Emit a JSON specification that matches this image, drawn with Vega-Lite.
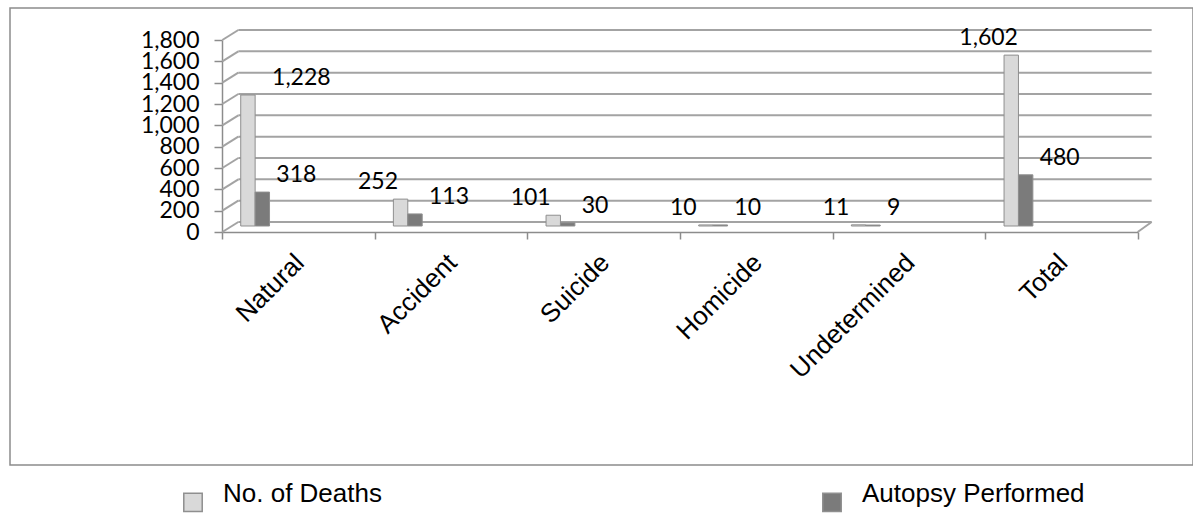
{
  "$schema": "https://vega.github.io/schema/vega-lite/v6.json",
  "width": 1183,
  "height": 457,
  "autosize": {"type": "none"},
  "padding": {"left": 10, "top": 8, "right": 0, "bottom": 48},
  "background": "white",
  "config": {"view": {"stroke": "#8c8c8c", "strokeWidth": 1.5}},
  "datasets": {
    "deaths": [
      {"category": "Natural", "series": "No. of Deaths", "value": 1228},
      {"category": "Natural", "series": "Autopsy Performed", "value": 318},
      {"category": "Accident", "series": "No. of Deaths", "value": 252},
      {"category": "Accident", "series": "Autopsy Performed", "value": 113},
      {"category": "Suicide", "series": "No. of Deaths", "value": 101},
      {"category": "Suicide", "series": "Autopsy Performed", "value": 30},
      {"category": "Homicide", "series": "No. of Deaths", "value": 10},
      {"category": "Homicide", "series": "Autopsy Performed", "value": 10},
      {"category": "Undetermined", "series": "No. of Deaths", "value": 11},
      {"category": "Undetermined", "series": "Autopsy Performed", "value": 9},
      {"category": "Total", "series": "No. of Deaths", "value": 1602},
      {"category": "Total", "series": "Autopsy Performed", "value": 480}
    ],
    "wallLines": [
      {"value": 0}, {"value": 200}, {"value": 400}, {"value": 600}, {"value": 800},
      {"value": 1000}, {"value": 1200}, {"value": 1400}, {"value": 1600}, {"value": 1800}
    ]
  },
  "layer": [
    {
      "data": {"name": "wallLines"},
      "mark": {"type": "rule", "color": "#a3a3a3", "strokeWidth": 2, "xOffset": -60, "x2Offset": 90, "yOffset": -10, "y2Offset": -10},
      "encoding": {
        "x": {"datum": "Natural", "type": "nominal"},
        "x2": {"datum": "Total"},
        "y": {"field": "value", "type": "quantitative"},
        "y2": {"field": "value"}
      }
    },
    {
      "data": {"name": "wallLines"},
      "mark": {"type": "rule", "color": "#a3a3a3", "strokeWidth": 2, "xOffset": -76, "x2Offset": -60, "y2Offset": -10},
      "encoding": {
        "x": {"datum": "Natural", "type": "nominal"},
        "x2": {"datum": "Natural"},
        "y": {"field": "value", "type": "quantitative"},
        "y2": {"field": "value"}
      }
    },
    {
      "data": {"name": "wallLines"},
      "transform": [{"filter": "datum.value == 0"}],
      "mark": {"type": "rule", "color": "#a3a3a3", "strokeWidth": 2, "xOffset": 76, "x2Offset": 90, "y2Offset": -10},
      "encoding": {
        "x": {"datum": "Total", "type": "nominal"},
        "x2": {"datum": "Total"},
        "y": {"field": "value", "type": "quantitative"},
        "y2": {"field": "value"}
      }
    },
    {
      "data": {"name": "deaths"},
      "mark": {"type": "bar", "yOffset": -6, "y2Offset": -6, "stroke": "#8f8f8f", "strokeWidth": 1},
      "encoding": {
        "x": {
          "field": "category", "type": "nominal", "sort": null,
          "scale": {"domain": ["Natural", "Accident", "Suicide", "Homicide", "Undetermined", "Total"], "range": [212, 1128], "paddingInner": 0, "paddingOuter": 0},
          "axis": {
            "orient": "bottom", "offset": -233, "tickBand": "extent", "tickSize": 7,
            "labelAngle": -45, "labelAlign": "right", "labelBaseline": "top", "labelPadding": 10, "labelOffset": -8,
            "labelFont": "Liberation Sans", "labelFontSize": 26, "labelColor": "black", "labelLimit": 400,
            "domainColor": "#8c8c8c", "domainWidth": 1.5, "tickColor": "#8c8c8c", "tickWidth": 1.5, "title": null, "grid": false
          }
        },
        "xOffset": {
          "field": "series", "type": "nominal",
          "scale": {"domain": ["s0", "No. of Deaths", "Autopsy Performed", "s3", "s4", "s5", "s6", "s7", "s8", "s9"], "paddingInner": 0, "paddingOuter": 0.3}
        },
        "y": {
          "field": "value", "type": "quantitative",
          "scale": {"domain": [0, 1800], "range": [224, 32], "nice": false, "zero": true},
          "axis": {
            "values": [0, 200, 400, 600, 800, 1000, 1200, 1400, 1600, 1800],
            "labelExpr": "format(datum.value, ',')", "grid": false,
            "labelOverlap": false, "labelFlush": false, "labelBound": false,
            "orient": "left", "offset": -212, "tickSize": 8, "labelPadding": 15,
            "labelFont": "Lato", "labelFontSize": 23, "labelColor": "black",
            "domainColor": "#8c8c8c", "domainWidth": 1.5, "tickColor": "#8c8c8c", "tickWidth": 1.5, "title": null
          }
        },
        "fill": {
          "field": "series", "type": "nominal",
          "scale": {"domain": ["No. of Deaths", "Autopsy Performed"], "range": ["#d9d9d9", "#7b7b7b"]},
          "legend": {
            "orient": "none", "legendX": 170, "legendY": 481, "direction": "horizontal", "columns": 2,
            "title": null, "symbolType": "square", "symbolSize": 340,
            "labelFont": "Liberation Sans", "labelFontSize": 26, "labelColor": "black", "labelOffset": 17,
            "labelBaseline": "alphabetic",
            "labelLimit": 400, "columnPadding": 437,
            "encode": {
              "symbols": {"update": {"stroke": {"value": "#222222"}, "strokeWidth": {"value": 1.5}}}
            }
          }
        }
      }
    },
    {
      "data": {"name": "deaths"},
      "transform": [{"filter": "datum.series == 'No. of Deaths' && datum.category != 'Natural'"}],
      "mark": {"type": "text", "dx": -73, "dy": -23, "align": "center", "baseline": "middle", "font": "Lato", "fontSize": 23, "color": "black"},
      "encoding": {
        "x": {"field": "category", "type": "nominal", "sort": null},
        "y": {"field": "value", "type": "quantitative"},
        "text": {"field": "value", "type": "quantitative", "format": ","}
      }
    },
    {
      "data": {"name": "deaths"},
      "transform": [{"filter": "datum.series == 'No. of Deaths' && datum.category == 'Natural'"}],
      "mark": {"type": "text", "dx": 3, "dy": -23, "align": "center", "baseline": "middle", "font": "Lato", "fontSize": 23, "color": "black"},
      "encoding": {
        "x": {"field": "category", "type": "nominal", "sort": null},
        "y": {"field": "value", "type": "quantitative"},
        "text": {"field": "value", "type": "quantitative", "format": ","}
      }
    },
    {
      "data": {"name": "deaths"},
      "transform": [{"filter": "datum.series == 'Autopsy Performed'"}],
      "mark": {"type": "text", "dx": -22, "dy": -23, "align": "left", "baseline": "middle", "font": "Lato", "fontSize": 23, "color": "black"},
      "encoding": {
        "x": {"field": "category", "type": "nominal", "sort": null},
        "y": {"field": "value", "type": "quantitative"},
        "text": {"field": "value", "type": "quantitative", "format": ","}
      }
    }
  ]
}
